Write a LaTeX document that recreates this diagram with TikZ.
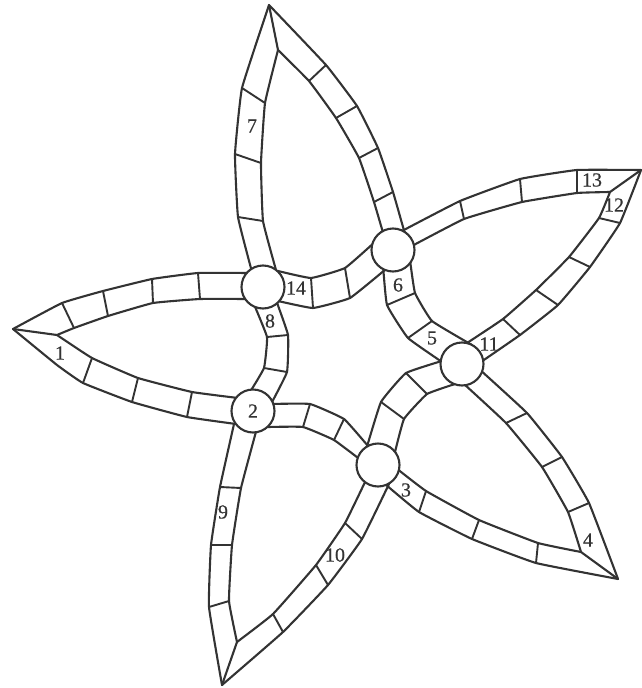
\documentclass[tikz,border=0pt]{standalone}
\usepackage{fontspec}
\setmainfont{Liberation Serif}
\newfontfamily\numfont[FakeBold=0.5]{Liberation Serif}
\definecolor{ink}{gray}{0.2}
\tikzset{
  edgeline/.style={draw=ink,line width=2.1pt,line join=round,line cap=round},
  tickline/.style={draw=ink,line width=1.9pt,line cap=round},
  hub/.style={circle,draw=ink,line width=2.1pt,fill=white,minimum size=43pt,inner sep=0pt},
  num/.style={text=ink,font=\numfont\fontsize{20}{20}\selectfont,inner sep=0pt},
  crv/.style={smooth,tension=0.2}
}
\newcommand{\edgepath}[1]{\draw[edgeline] plot[crv] coordinates {#1};}
\newcommand{\ticks}[1]{\foreach \xa/\ya/\xb/\yb in {#1} \draw[tickline] (\xa,\ya) -- (\xb,\yb);}
\begin{document}
\begin{tikzpicture}[x=1pt,y=-1pt]
\useasboundingbox (0,0) rectangle (641,688);
% petal 1 (left)
\edgepath{(13,329) (62,303) (103,291) (152,279) (198,273) (250,273)}
\edgepath{(57,335) (74,328) (108,316) (153,303) (200,299) (250,299)}
\edgepath{(13,329) (57,365) (83,383) (132,402) (187,417) (236,424)}
\edgepath{(57,335) (92,358) (138,378) (192,392) (238,398)}
\draw[edgeline] (13,329) -- (57,335);
\ticks{62/303/74/328,103/291/108/316,152/279/153/303,198/273/200/299,83/383/92/358,132/402/138/378,187/417/192/392}
% band 8
\edgepath{(253,302) (267,337) (264,368) (250,392)}
\edgepath{(276,300) (288,335) (287,372) (271,404)}
\ticks{267/337/288/335,264/368/287/372}
% band 2-3
\edgepath{(270,404) (310,404) (344,419) (368,446)}
\edgepath{(268,427) (303,427) (334,440) (362,461)}
\ticks{310/404/303/427,344/419/334/440}
% petal bottom
\edgepath{(234,424) (220,487) (211,545) (209,607) (222,685)}
\edgepath{(257,428) (241,488) (232,545) (229,601) (237,642)}
\ticks{220/487/241/488,211/545/232/545,209/607/229/601}
\edgepath{(222,685) (283,632) (328,585) (362,539) (389,484)}
\edgepath{(237,642) (273,614) (316,565) (345,523) (366,480)}
\draw[edgeline] (222,685) -- (237,642);
\ticks{273/614/283/632,316/565/328/585,345/523/362/539}
% petal lower right
\edgepath{(396,468) (426,491) (479,520) (538,543) (581,552)}
\edgepath{(385,484) (419,512) (472,539) (536,563) (618,579)}
\ticks{426/491/419/512,479/520/472/539,538/543/536/563}
\edgepath{(478,368) (527,413) (562,457) (589,503) (618,579)}
\edgepath{(464,384) (506,423) (542,467) (568,512) (581,552)}
\draw[edgeline] (581,552) -- (618,579);
\ticks{527/413/506/423,562/457/542/467,589/503/568/512}
% band 11-3
\edgepath{(445,360) (406,373) (381,402) (366,450)}
\edgepath{(455,384) (427,394) (404,419) (394,456)}
\ticks{406/373/427/394,381/402/404/419}
% band 6-5
\edgepath{(383,265) (387,305) (408,338) (445,364)}
\edgepath{(410,260) (415,293) (432,321) (472,345)}
\ticks{387/305/415/293,408/338/432/321}
% petal upper right
\edgepath{(400,232) (460,201) (520,179) (577,170) (641,170)}
\edgepath{(410,247) (464,219) (522,202) (577,193) (610,192)}
\draw[edgeline] (610,192) -- (641,170);
\ticks{460/201/464/219,520/179/522/202,577/170/577/193}
\edgepath{(641,170) (620,223) (590,267) (558,305) (520,335) (478,364)}
\edgepath{(610,192) (599,218) (569,257) (536,290) (503,319) (464,345)}
\ticks{599/218/620/223,569/257/590/267,536/290/558/305,503/319/520/335}
% petal top
\edgepath{(269,5) (242,88) (235,154) (238,217) (252,272)}
\edgepath{(278,50) (265,103) (261,163) (263,221) (276,270)}
\draw[edgeline] (269,5) -- (278,50);
\ticks{242/88/265/103,235/154/261/163,238/217/263/221}
\edgepath{(269,5) (326,65) (357,106) (378,148) (393,192) (405,234)}
\edgepath{(278,50) (309,81) (336,118) (359,158) (374,202) (384,236)}
\ticks{326/65/309/81,357/106/336/118,378/148/359/158,393/192/374/202}
% band 14
\edgepath{(278,271) (311,278) (345,268) (376,241)}
\edgepath{(278,301) (313,308) (350,298) (386,269)}
\ticks{311/278/313/308,345/268/350/298}
% hubs
\node[hub] (h1) at (263,287) {};
\node[hub] (h2) at (253,411) {};
\node[hub] (h3) at (378,465) {};
\node[hub] (h4) at (462,364) {};
\node[hub] (h5) at (393,250) {};
% labels
\node[num] (n1) at (60,353) {1};
\node[num] (n2) at (h2) {2};
\node[num] (n3) at (406,490) {3};
\node[num] (n4) at (588,540) {4};
\node[num] (n5) at (432,338) {5};
\node[num] (n6) at (398,285) {6};
\node[num] (n7) at (252,126) {7};
\node[num] (n8) at (270,321) {8};
\node[num] (n9) at (223,512) {9};
\node[num] (n10) at (335,555) {10};
\node[num] (n11) at (489,344) {11};
\node[num] (n12) at (614,205) {12};
\node[num] (n13) at (592,180) {13};
\node[num] (n14) at (296,288) {14};
\end{tikzpicture}
\end{document}
